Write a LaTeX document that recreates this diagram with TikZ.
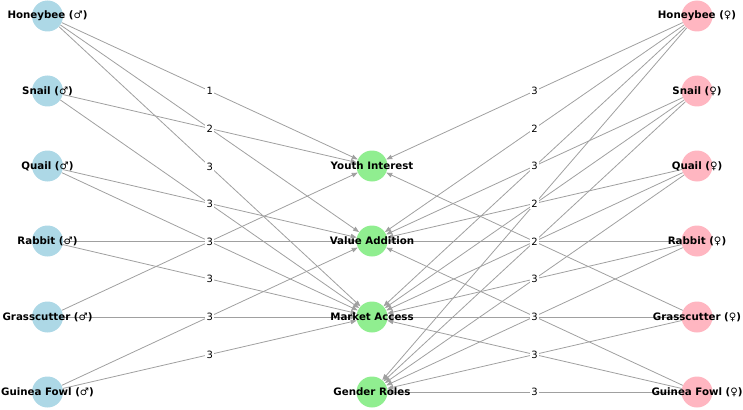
\documentclass[tikz,border=0pt]{standalone}
\usepackage{fontspec}
\setmainfont{DejaVu Sans}
\usetikzlibrary{arrows.meta}

\definecolor{maleblue}{RGB}{173,216,230}
\definecolor{femalepink}{RGB}{255,182,193}
\definecolor{themegreen}{RGB}{144,238,144}
\definecolor{edgegray}{RGB}{160,160,160}

\pgfdeclarelayer{bg}
\pgfsetlayers{bg,main}

\tikzset{
	animal/.style={circle, minimum size=31pt, inner sep=0pt},
	nodetext/.style={font=\bfseries\fontsize{10.25}{12}\selectfont, inner sep=0pt},
	link/.style={draw=edgegray, line width=0.8pt, -{Triangle[length=6pt, width=4.5pt]}},
	weight/.style={fill=white, inner sep=1.5pt, font=\fontsize{10}{12}\selectfont},
}

\begin{document}
\begin{tikzpicture}[x=1pt, y=-1pt]
	% параметры
	\def\xL{47.5} % левый столбец (самцы)
	\def\xM{372}  % темы
	\def\xR{697}  % правый столбец (самки)

	\useasboundingbox (0,0) rectangle (743,409);

	% самцы
	\foreach \n/\y/\lbl in {hbm/16/Honeybee, snm/91/Snail, qum/166/Quail,
		rbm/241/Rabbit, gcm/317/Grasscutter, gfm/392/Guinea Fowl} {
		\node[animal, fill=maleblue] (\n) at (\xL,\y) {};
		\node[nodetext] at (\n) {\lbl\ (♂)};
	}

	% самки
	\foreach \n/\y/\lbl in {hbf/16/Honeybee, snf/91/Snail, quf/166/Quail,
		rbf/241/Rabbit, gcf/317/Grasscutter, gff/392/Guinea Fowl} {
		\node[animal, fill=femalepink] (\n) at (\xR,\y) {};
		\node[nodetext] at (\n) {\lbl\ (♀)};
	}

	% темы
	\foreach \n/\y/\lbl in {yi/166/Youth Interest, va/241/Value Addition,
		ma/317/Market Access, gr/392/Gender Roles} {
		\node[animal, fill=themegreen] (\n) at (\xM,\y) {};
		\node[nodetext] at (\n) {\lbl};
	}

	% связи с весами
	\foreach \a/\b/\w in {hbm/yi/1, hbm/va/2, hbm/ma/3, snm/yi/2, snm/ma/3,
		qum/va/3, qum/ma/3, rbm/va/3, rbm/ma/3, gcm/yi/3, gcm/ma/3, gfm/va/3, gfm/ma/3,
		hbf/yi/3, hbf/va/2, hbf/ma/3, hbf/gr/2, snf/va/3, snf/ma/2, snf/gr/2,
		quf/va/2, quf/ma/2, quf/gr/3, rbf/va/2, rbf/ma/3, rbf/gr/3,
		gcf/yi/2, gcf/ma/3, gcf/gr/3, gff/va/3, gff/ma/3, gff/gr/3} {
		\begin{pgfonlayer}{bg}
			\draw[link] (\a) -- (\b);
		\end{pgfonlayer}
		\path (\a.center) -- (\b.center) node[weight, midway] {\w};
	}
\end{tikzpicture}
\end{document}
